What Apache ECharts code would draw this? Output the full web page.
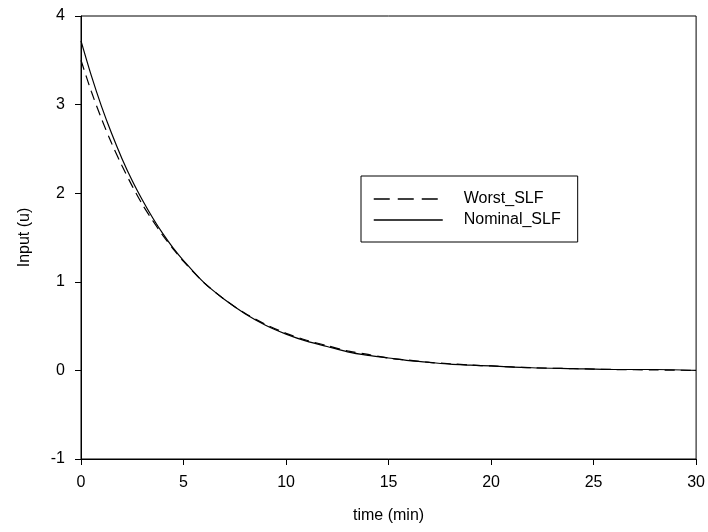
<!DOCTYPE html>
<html>
<head>
<meta charset="utf-8">
<script src="https://cdn.jsdelivr.net/npm/echarts@6/dist/echarts.min.js"></script>
<style>
html,body{margin:0;padding:0;background:#fff;}
#chart{width:708px;height:532px;}
</style>
</head>
<body>
<div id="chart"></div>
<script>
var times = [0,0.5,1,1.5,2,2.5,3,3.5,4,4.5,5,6,7,8,9,10,11,12,13,14,15,16,17,18,19,20,22,24,26,28,30];
var nominalSLF = [3.72,3.33,2.98,2.67,2.39,2.14,1.92,1.72,1.54,1.38,1.24,0.99,0.80,0.64,0.51,0.41,0.33,0.27,0.21,0.17,0.14,0.11,0.09,0.07,0.06,0.05,0.03,0.02,0.01,0.01,0.0];
var worstSLF = [3.50,3.15,2.84,2.56,2.31,2.08,1.87,1.69,1.52,1.37,1.23,0.99,0.80,0.645,0.52,0.42,0.34,0.28,0.22,0.18,0.14,0.115,0.09,0.075,0.06,0.05,0.03,0.02,0.01,0.005,0.0];
var seriesNames = ['Worst_SLF','Nominal_SLF'];
var xTitle = 'time (min)';
var yTitle = 'Input (u)';

function pairs(xs, ys){ return xs.map(function(x,i){ return [x, ys[i]]; }); }

var font = 'Liberation Sans, Arial, sans-serif';
var chart = echarts.init(document.getElementById('chart'));
chart.setOption({
  animation: false,
  backgroundColor: '#fff',
  grid: {left: 81, right: 11, top: 16, bottom: 73, show: true, borderColor: '#000', borderWidth: 1, backgroundColor: 'transparent'},
  legend: {
    orient: 'vertical', left: 361, top: 176,
    borderColor: '#000', borderWidth: 1, borderRadius: 0,
    padding: [15, 17, 14, 12],
    itemWidth: 69, itemHeight: 16, itemGap: 5,
    itemStyle: {color: 'rgba(0,0,0,0)', borderColor: 'rgba(0,0,0,0)', borderWidth: 0},
    textStyle: {fontFamily: font, fontSize: 16, color: '#000', lineHeight: 16, padding: [0,0,0,16]},
    data: [
      {name: seriesNames[0], lineStyle: {type: [16, 8], width: 1.5, color: '#000'}},
      {name: seriesNames[1], lineStyle: {type: 'solid', width: 1.5, color: '#000'}}
    ]
  },
  xAxis: {
    type: 'value', min: 0, max: 30, interval: 5,
    name: xTitle, nameLocation: 'middle', nameGap: 49,
    nameTextStyle: {fontFamily: font, fontSize: 16, color: '#000'},
    axisLine: {show: true, onZero: false, lineStyle: {color: '#000', width: 1}},
    axisTick: {show: true, inside: false, length: 6, lineStyle: {color: '#000'}},
    axisLabel: {fontFamily: font, fontSize: 16, color: '#000', margin: 16},
    splitLine: {show: false}
  },
  yAxis: {
    type: 'value', min: -1, max: 4, interval: 1,
    name: yTitle, nameLocation: 'middle', nameGap: 48, nameRotate: 90,
    nameTextStyle: {fontFamily: font, fontSize: 16, color: '#000'},
    axisLine: {show: true, onZero: false, lineStyle: {color: '#000', width: 1}},
    axisTick: {show: true, inside: false, length: 6, lineStyle: {color: '#000'}},
    axisLabel: {fontFamily: font, fontSize: 16, color: '#000', margin: 16},
    splitLine: {show: false}
  },
  series: [
    {name: seriesNames[0], type: 'line', data: pairs(times, worstSLF), showSymbol: false, symbol: 'none', smooth: 0.3,
     lineStyle: {color: '#000', width: 1.2, type: [10, 6]}, itemStyle: {color: '#000'}},
    {name: seriesNames[1], type: 'line', data: pairs(times, nominalSLF), showSymbol: false, symbol: 'none', smooth: 0.3,
     lineStyle: {color: '#000', width: 1.2, type: 'solid'}, itemStyle: {color: '#000'}}
  ]
});
</script>
</body>
</html>
